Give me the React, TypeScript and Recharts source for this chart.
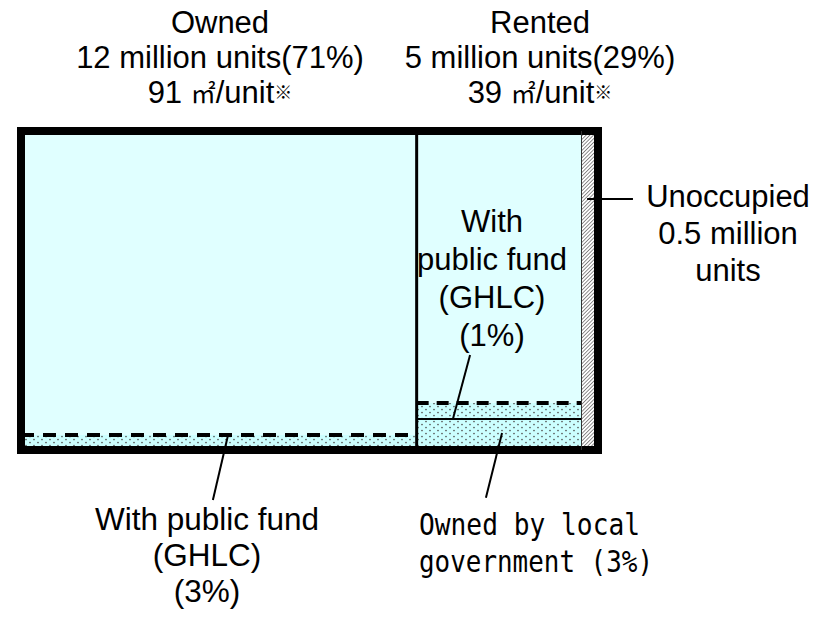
import React from 'react';
import { ComposedChart, XAxis, YAxis, ReferenceArea, ReferenceLine } from 'recharts';

// housing stock by tenure (million units), widths of the columns
const tenures = ['Owned', 'Rented', 'Unoccupied'];
const millionUnits = [12, 5, 0.5];
const tenureShares = ['71%', '29%'];
const floorArea = [91, 39];

// height of the bottom bands, % of each column
const publicFundBand = [4.7, 5.0];
const localGovBand = [0, 9.7];
const bandShares = ['3%', '1%', '3%'];

// leader lines: [from, to] in chart units
const leaders = [
  [{ x: 6.28, y: 4.7 }, { x: 5.82, y: -15.7 }],
  [{ x: 13.62, y: 29.8 }, { x: 13.1, y: 9.7 }],
  [{ x: 14.59, y: 5.3 }, { x: 14.1, y: -15.0 }],
  [{ x: 17.17, y: 78.7 }, { x: 18.56, y: 78.7 }],
];

const W = 815;
const H = 619;
const CYAN = '#E0FFFF';
const SANS = '"Liberation Sans", Arial, sans-serif';
const MONO = '"DejaVu Sans Mono", "Liberation Mono", monospace';
const CJK = '"Noto Sans CJK JP", sans-serif';

const starts = millionUnits.map((_, i) => millionUnits.slice(0, i).reduce((a, b) => a + b, 0));
const total = millionUnits.reduce((a, b) => a + b, 0);

const Lines = ({ x, y, lines, step, size = 31 }: any) => (
  <text textAnchor="middle" fontFamily={SANS} fontSize={size} fill="#000">
    {lines.map((l: React.ReactNode, i: number) => (
      <tspan key={i} x={x} y={y + i * step}>{l}</tspan>
    ))}
  </text>
);

const areaLine = (n: number) => (
  <>
    {n} <tspan fontFamily={CJK} fontSize={25}>㎡</tspan>/unit
    <tspan fontFamily={CJK} fontSize={18} dy={-4}>※</tspan>
  </>
);

export default function App() {
  const ownedX = [starts[0], starts[0] + millionUnits[0]];
  const rentedX = [starts[1], starts[1] + millionUnits[1]];
  const vacantX = [starts[2], starts[2] + millionUnits[2]];
  const rentedTop = localGovBand[1] + publicFundBand[1];

  return (
    <div style={{ position: 'absolute', left: 0, top: 0, width: W, height: H, background: '#fff' }}>
      <ComposedChart width={W} height={H} data={[]} margin={{ top: 131, right: 217, bottom: 169, left: 21 }}>
        <defs>
          <pattern id="dots" width="8" height="6" patternUnits="userSpaceOnUse">
            <rect width="8" height="6" fill="#CCFFFF" />
            <circle cx="2" cy="1.5" r="0.85" fill="#555" />
            <circle cx="6" cy="4.5" r="0.85" fill="#555" />
          </pattern>
          <pattern id="hatch" width="2.6" height="2.6" patternUnits="userSpaceOnUse" patternTransform="rotate(45)">
            <rect width="2.6" height="2.6" fill="#fff" />
            <line x1="0" y1="0" x2="0" y2="2.6" stroke="#444" strokeWidth="1.2" />
          </pattern>
        </defs>
        <XAxis type="number" dataKey="x" domain={[0, total]} allowDataOverflow hide />
        <YAxis type="number" domain={[0, 100]} allowDataOverflow hide />

        {/* owned */}
        <ReferenceArea x1={ownedX[0]} x2={ownedX[1]} y1={0} y2={100} fill={CYAN} fillOpacity={1} stroke="none" />
        <ReferenceArea x1={ownedX[0]} x2={ownedX[1]} y1={0} y2={publicFundBand[0]} fill="url(#dots)" fillOpacity={1} stroke="none" />
        {/* rented */}
        <ReferenceArea x1={rentedX[0]} x2={rentedX[1]} y1={0} y2={100} fill={CYAN} fillOpacity={1} stroke="none" />
        <ReferenceArea x1={rentedX[0]} x2={rentedX[1]} y1={0} y2={rentedTop} fill="url(#dots)" fillOpacity={1} stroke="none" />
        {/* unoccupied */}
        <ReferenceArea x1={vacantX[0]} x2={vacantX[1]} y1={0} y2={100} fill="url(#hatch)" fillOpacity={1} stroke="none" />

        <ReferenceLine segment={[{ x: ownedX[0], y: publicFundBand[0] }, { x: ownedX[1], y: publicFundBand[0] }]}
          stroke="#000" strokeWidth={4} strokeDasharray="13 9" />
        <ReferenceLine segment={[{ x: rentedX[0], y: rentedTop }, { x: rentedX[1], y: rentedTop }]}
          stroke="#000" strokeWidth={4} strokeDasharray="12 8" />
        <ReferenceLine segment={[{ x: rentedX[0], y: localGovBand[1] }, { x: rentedX[1], y: localGovBand[1] }]}
          stroke="#000" strokeWidth={2} />
        <ReferenceLine x={ownedX[1]} stroke="#000" strokeWidth={3} />
        <ReferenceLine x={vacantX[0]} stroke="#333" strokeWidth={1} />

        <ReferenceArea x1={0} x2={total} y1={0} y2={100} fill="none" fillOpacity={0} stroke="#000" strokeWidth={8} />

        {leaders.map((seg, i) => (
          <ReferenceLine key={i} segment={seg} stroke="#000" strokeWidth={2} ifOverflow="visible" />
        ))}

        <Lines x={220} y={33} step={35} lines={[tenures[0], `${millionUnits[0]} million units(${tenureShares[0]})`, areaLine(floorArea[0])]} />
        <Lines x={540} y={33} step={35} lines={[tenures[1], `${millionUnits[1]} million units(${tenureShares[1]})`, areaLine(floorArea[1])]} />
        <Lines x={728} y={207} step={37} lines={[tenures[2], `${millionUnits[2]} million`, 'units']} />
        <Lines x={207} y={530} step={36} size={31.5} lines={['With public fund', '(GHLC)', `(${bandShares[0]})`]} />
        <text fontFamily={MONO} fontSize={30} fill="#000">
          <tspan x={419} y={535} textLength={221} lengthAdjust="spacingAndGlyphs">Owned by local</tspan>
          <tspan x={419} y={572} textLength={234} lengthAdjust="spacingAndGlyphs">{`government (${bandShares[2]})`}</tspan>
        </text>
      </ComposedChart>
      <div style={{
        position: 'absolute', left: 392, top: 203, width: 200, textAlign: 'center',
        fontFamily: SANS, fontSize: 31, lineHeight: '38px', color: '#000', pointerEvents: 'none',
      }}>
        With<br />public fund<br />(GHLC)<br />({bandShares[1]})
      </div>
    </div>
  );
}
